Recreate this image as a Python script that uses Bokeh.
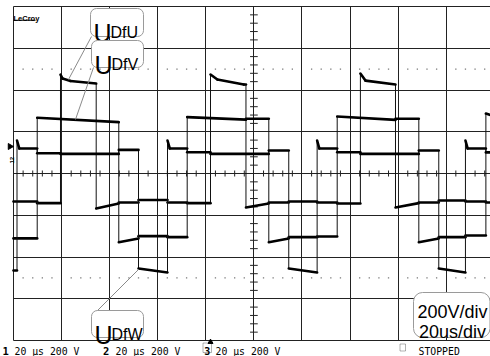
import math
from bokeh.plotting import figure
from bokeh.models import Label, BoxAnnotation, Grid, FixedTicker
from bokeh.embed import file_html
from bokeh.resources import INLINE

# ---------------- data (time in microseconds, voltage in volts) ----------------
# Each trace: plateau boundaries (edges) and the level at the start / end of each plateau
u_edges = [0.0, 9.86, 19.55, 20.4, 23.7, 34.4, 43.8, 52.0, 64.06, 72.25, 81.95, 84.8, 95.8,
           96.7, 106.2, 114.5, 126.3, 134.65, 144.3, 146.4, 158.9, 168.6, 176.9, 188.0, 196.5, 198.4]
u_start = [-134, -142, 474, 455, 443, -168, -139, -127, -139, -142, 474, 450, 426,
           -163, -139, -134, -139, -144, 479, 445, -163, -139, -129, -134, -139]
u_end = [-134, -142, 455, 443, 431, -144, -139, -127, -139, -142, 450, 426, 426,
         -144, -139, -134, -139, -144, 445, 426, -142, -139, -129, -134, -139]

v_edges = [0.0, 9.86, 43.8, 52.0, 64.06, 72.25, 96.7, 106.2, 114.5, 126.3, 134.65, 158.9,
           168.6, 176.9, 188.0, 196.5, 198.4]
v_start = [-311, 267, -329, -300, -305, 270, 262, -329, -305, -302, 273, 262, -329, -305, -297, 287]
v_end = [-311, 246, -311, -300, -305, 258, 262, -311, -305, -302, 257, 262, -311, -305, -297, 280]

w_edges = [0.0, 1.46, 2.4, 9.86, 19.55, 43.8, 52.0, 64.06, 65.0, 72.25, 81.95, 106.2, 114.5,
           126.3, 127.2, 134.65, 144.3, 168.6, 176.9, 188.0, 188.9, 196.5, 198.4]
w_start = [-465, 158, 120, 97, 94, 113, -455, 158, 120, 102, 94, 110, -455, 158, 120, 102, 94,
           110, -455, 158, 120, 101]
w_end = [-465, 120, 120, 97, 94, 113, -474, 120, 120, 102, 94, 110, -474, 120, 120, 102, 94,
         110, -474, 120, 120, 101]

x_major = [0, 20, 40, 60, 80, 100, 120, 140, 160, 180, 200]
y_major = [-800, -600, -400, -200, 0, 200, 400, 600, 800]
ref_levels = [500, -500]
trigger_t = [81.95]

# ---------------- screen scale of the scope picture ----------------
W, H = 490, 356
KX = 48.08 / 20.0     # px per microsecond
KY = 41.75 / 200.0    # px per volt
X0, Y0 = 13.0, 173.0  # pixel of t=0, V=0


def tx(px):
    return (px - X0) / KX


def vy(py):
    return (Y0 - py) / KY


p = figure(width=W, height=H, x_range=(tx(0), tx(W)), y_range=(vy(H), vy(0)),
           output_backend="svg", toolbar_location=None, min_border=0,
           x_axis_type=None, y_axis_type=None)
p.outline_line_color = None
p.background_fill_color = "white"
p.border_fill_color = "white"

# graticule
p.add_layout(Grid(dimension=0, ticker=FixedTicker(ticks=x_major),
                  cross_bounds=(y_major[0], y_major[-1]),
                  grid_line_color="#222222", grid_line_width=1))
p.add_layout(Grid(dimension=1, ticker=FixedTicker(ticks=y_major),
                  cross_bounds=(x_major[0], x_major[-1]),
                  grid_line_color="#222222", grid_line_width=1))

# minor ticks on centre lines
t_minor = [x_major[0] + i * 4 for i in range(1, 50) if i % 5]
v_minor = [i * 40 for i in range(-19, 20) if i % 5]
tc = (x_major[0] + x_major[-1]) / 2
p.segment(x0=t_minor, x1=t_minor, y0=[-3 / KY] * len(t_minor), y1=[3 / KY] * len(t_minor),
          line_color="#222222", line_width=1)
p.segment(x0=[tc - 1.6] * len(v_minor), x1=[tc + 1.6] * len(v_minor), y0=v_minor, y1=v_minor,
          line_color="#222222", line_width=1)
# dotted reference rows
for lv in ref_levels:
    p.scatter(x=t_minor, y=[lv] * len(t_minor), marker="square", size=1.3,
              fill_color="#777777", line_color=None)


def draw_trace(edges, s, e):
    xs, ys = [], []
    for i in range(len(s)):
        xs += [edges[i], edges[i + 1]]
        ys += [s[i], e[i]]
    p.line(xs, ys, line_color="#111111", line_width=1)
    p.segment(x0=edges[:-1], x1=edges[1:], y0=s, y1=e, line_color="black",
              line_width=2.6, line_cap="round")


draw_trace(u_edges, u_start, u_end)
draw_trace(v_edges, v_start, v_end)
draw_trace(w_edges, w_start, w_end)

# leader lines of the callouts
for (a, b), (c, d) in [((91, 36), (68, 79)), ((93, 67), (75, 119)), ((96, 311), (138, 269))]:
    p.line([tx(a), tx(c)], [vy(b), vy(d)], line_color="#8a8a8a", line_width=1)

# trigger marker and channel ground marker
p.scatter(x=trigger_t, y=[vy(341.5)], marker="triangle", size=5, fill_color="black", line_color="black")
p.scatter(x=[tx(9.5)], y=[vy(146)], marker="triangle", angle=-math.pi / 2, size=6,
          fill_color="black", line_color="black")


def box(l, t, r, b, radius=6, color="#9a9a9a", fill="white"):
    p.add_layout(BoxAnnotation(left=tx(l), right=tx(r), top=vy(t), bottom=vy(b),
                               fill_color=fill, fill_alpha=1,
                               line_color=color, line_width=1, line_alpha=1,
                               border_radius=radius, level="annotation"))


def lab(px, py, text, size, font="Liberation Sans", style="normal", align="left", angle=0, color="black"):
    p.add_layout(Label(x=tx(px), y=vy(py), text=text, text_font=font, text_font_size=size,
                       text_font_style=style, text_align=align, text_baseline="alphabetic",
                       angle=angle, text_color=color))


# callout boxes
box(90, 8, 143, 36)
lab(93, 32, "U", "25px")
lab(110, 32, "DfU", "16px")
box(91, 40, 143, 67)
lab(94, 64, "U", "25px")
lab(111, 64, "DfV", "16px")
box(91, 310, 143, 337)
lab(94, 334, "U", "25px")
lab(111, 334, "DfW", "16px")
box(413, 292, 489.5, 337, radius=9)
lab(452, 311.5, "200V/div", "18px", align="center")
lab(452, 331.5, "20us/div", "18px", align="center")

# logo
lab(13, 18, "LeCroy", "7.5px", style="bold")
p.add_layout(BoxAnnotation(left=tx(13), right=tx(35), top=vy(19.3), bottom=vy(20.3),
                           fill_color="black", fill_alpha=1, line_color=None))
lab(11.5, 163, "12", "6px", style="bold", angle=math.pi / 2)

# status line
mono = "DejaVu Sans Mono"
SB = 350.5
lab(2, SB, "1", "10.5px", font=mono, style="bold")
lab(14, SB, "20 µs 200 V", "9.8px", font=mono)
lab(102.5, SB, "2", "10.5px", font=mono, style="bold")
lab(115, SB, "20 µs 200 V", "9.8px", font=mono)
p.add_layout(BoxAnnotation(left=tx(202.5), right=tx(211), top=vy(342.5), bottom=vy(352),
                           fill_alpha=0, line_color="black", line_width=1))
lab(203.8, SB, "3", "10px", font=mono, style="bold")
lab(215, SB, "20 µs 200 V", "9.8px", font=mono)
p.add_layout(BoxAnnotation(left=tx(399.5), right=tx(405), top=vy(343.5), bottom=vy(350.5),
                           fill_alpha=0, line_color="black", line_width=1))
lab(418, SB, "STOPPED", "9.8px", font=mono)

open("out.html", "w").write(file_html(p, INLINE))
